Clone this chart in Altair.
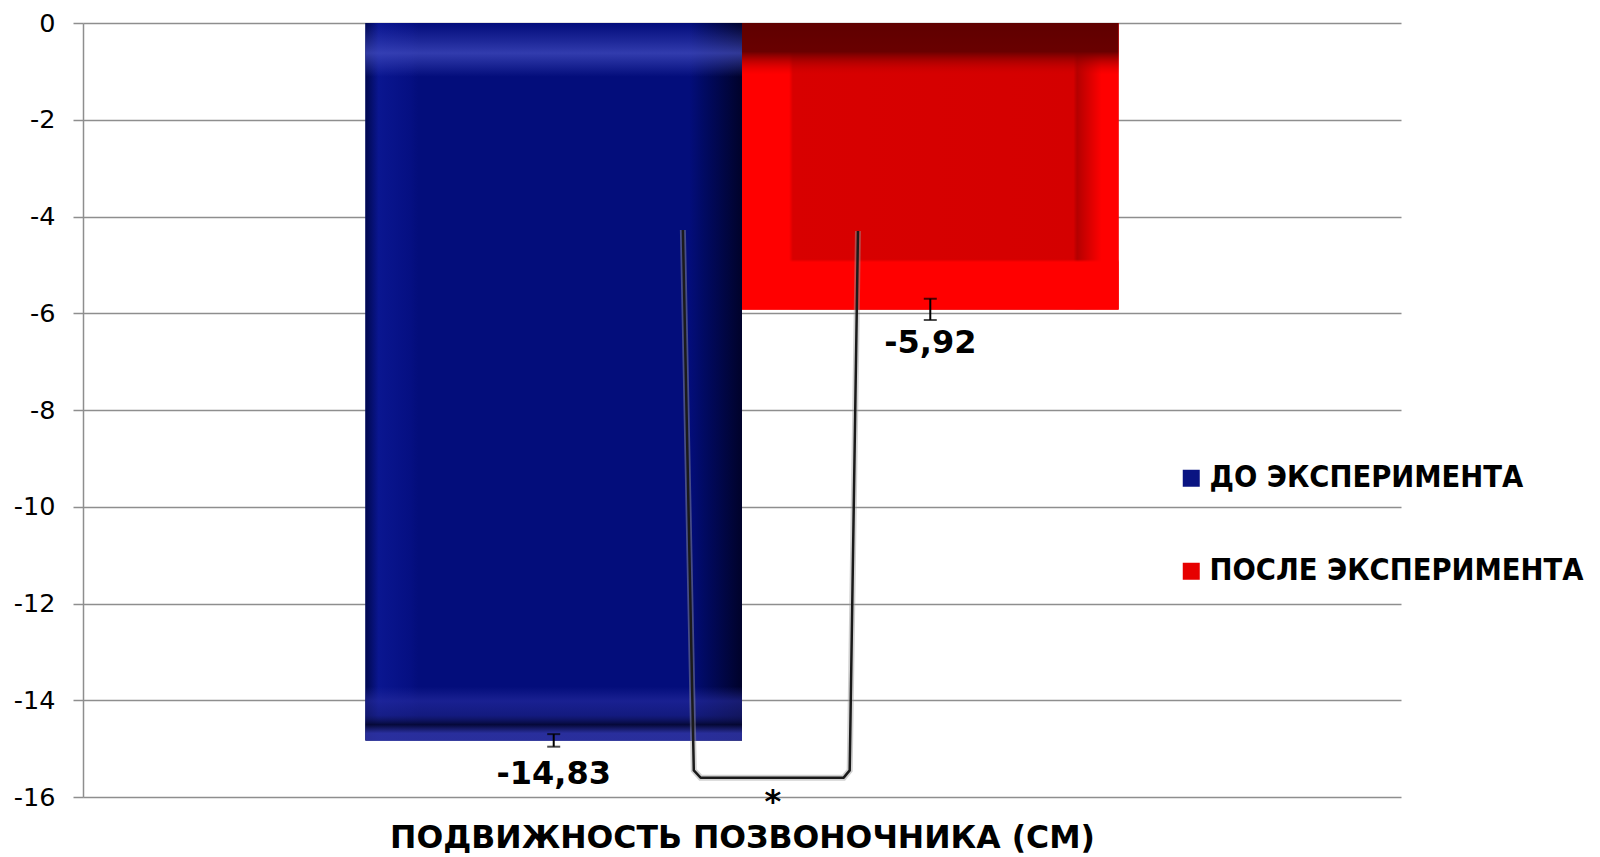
import altair as alt
import pandas as pd

# ---- data ----
groups = ["ДО ЭКСПЕРИМЕНТА", "ПОСЛЕ ЭКСПЕРИМЕНТА"]
values = [-14.83, -5.92]
errors = [0.13, 0.22]
legend_colors = ["#0a1482", "#e60000"]
category_title = "ПОДВИЖНОСТЬ ПОЗВОНОЧНИКА (СМ)"
y_ticks = [0, -2, -4, -6, -8, -10, -12, -14, -16]

# significance bracket (in data units of the chart's scales)
bracket_x = [0.843, 0.872, 0.89, 1.27, 1.286, 1.308]
bracket_y = [-4.28, -15.45, -15.6, -15.6, -15.45, -4.3]
star_x = [1.082]
star_y = [-16.0]
star_text = ["*"]

df = pd.DataFrame({"group": groups, "value": values, "err": errors,
                   "pos": list(range(len(groups)))})
br = pd.DataFrame({"bx": bracket_x, "by": bracket_y, "ord": list(range(len(bracket_x)))})
st = pd.DataFrame({"sx": star_x, "sy": star_y, "txt": star_text})

MINUS = "\u2212"

xs = alt.Scale(domain=[-0.75, 2.75], nice=False, zero=False)
ys = alt.Scale(domain=[-16, 0], nice=False, zero=False)

xaxis = alt.Axis(title=category_title, labels=False, ticks=False, domain=False, grid=False,
                 titleFont="DejaVu Sans", titleFontSize=31.5, titleFontWeight="bold",
                 titleColor="black", titlePadding=25)
yaxis = alt.Axis(values=y_ticks, grid=True, gridColor="#8e8e8e", gridWidth=1.5,
                 domainColor="#8e8e8e", domainWidth=1.5, tickColor="#8e8e8e", tickWidth=1.5,
                 tickSize=10, labelFont="DejaVu Sans", labelFontSize=25.5, labelColor="black",
                 labelPadding=18, title=None, labelFlush=False,
                 labelExpr=f"replace(datum.label, '{MINUS}', '-')")

base = alt.Chart(df).transform_calculate(
    x0="datum.pos",
    x1="datum.pos + 1",
    xc="datum.pos + 0.5",
    lo="datum.value - datum.err",
    hi="datum.value + datum.err",
    label=f"replace(replace(format(datum.value, '.2f'), '.', ','), '{MINUS}', '-')",
)

def X(f):
    return alt.X(f, scale=xs, axis=xaxis)

def Y(f):
    return alt.Y(f, scale=ys, axis=yaxis)

def grad(stops, vertical=False):
    return alt.LinearGradient(
        gradient="linear",
        stops=[alt.GradientStop(color=c, offset=o) for o, c in stops],
        x1=0, y1=0, x2=0 if vertical else 1, y2=1 if vertical else 0,
    )

bars = base.mark_rect().encode(
    x=X("x0:Q"), x2="x1:Q", y=Y("value:Q"), y2=alt.datum(0),
    color=alt.Color("group:N", scale=alt.Scale(domain=groups, range=legend_colors),
                    legend=alt.Legend(orient="none", legendX=1093, legendY=440, title=None,
                                      direction="vertical", labelFont="DejaVu Sans Condensed",
                                      labelFontSize=30.5, labelFontWeight="bold",
                                      labelColor="black", labelLimit=800,
                                      symbolType="square", symbolSize=289,
                                      symbolStrokeWidth=0, symbolOpacity=1,
                                      labelOffset=3, rowPadding=62, padding=0)),
)

blue_h = grad([(0.0, "#00084f"), (0.035, "#0a1690"), (0.12, "#050f82"), (0.14, "#030d7b"),
               (0.86, "#030d7b"), (0.9, "#010a62"), (1.0, "#00022a")])
blue_v = grad([(0.0, "rgba(60,70,190,0)"), (0.042, "rgba(70,80,195,0.7)"),
               (0.075, "rgba(70,80,195,0)"), (0.925, "rgba(40,45,160,0)"),
               (0.945, "rgba(40,45,160,0.6)"), (0.965, "rgba(30,35,130,0.6)"),
               (0.978, "rgba(5,8,50,0.9)"), (0.99, "rgba(45,50,160,0.9)"),
               (1.0, "rgba(45,50,160,0.9)")], vertical=True)
red_h = grad([(0.0, "#ff0000"), (0.125, "#ff0000"), (0.135, "#d80000"), (0.88, "#d40000"),
              (0.89, "#b40000"), (0.955, "#ff0000"), (1.0, "#ff0000")])
red_v = grad([(0.0, "rgba(95,0,0,1)"), (0.1, "rgba(105,0,0,1)"),
              (0.18, "rgba(200,0,0,0)"), (0.825, "rgba(255,0,0,0)"),
              (0.835, "rgba(255,0,0,1)"), (1.0, "rgba(255,0,0,1)")], vertical=True)

def overlay(idx, g):
    return base.transform_filter(alt.datum.pos == idx).mark_rect(fill=g, strokeWidth=0).encode(
        x=X("x0:Q"), x2="x1:Q", y=Y("value:Q"), y2=alt.datum(0))

err_rule = base.mark_rule(color="black", strokeWidth=2).encode(
    x=X("xc:Q"), y=Y("lo:Q"), y2="hi:Q")
cap_lo = base.mark_tick(color="black", orient="horizontal", size=13, thickness=2).encode(
    x=X("xc:Q"), y=Y("lo:Q"))
cap_hi = base.mark_tick(color="black", orient="horizontal", size=13, thickness=2).encode(
    x=X("xc:Q"), y=Y("hi:Q"))

labels = base.mark_text(font="DejaVu Sans", fontSize=32, fontWeight="bold", baseline="top",
                        dy=19, color="black").encode(x=X("xc:Q"), y=Y("value:Q"), text="label:N")

bracket_shadow = alt.Chart(br).mark_line(color="#9a9a9a", strokeWidth=6, opacity=0.45).encode(
    x=X("bx:Q"), y=Y("by:Q"), order="ord:O")
bracket = alt.Chart(br).mark_line(color="#1a1a1a", strokeWidth=2.5, strokeJoin="round").encode(
    x=X("bx:Q"), y=Y("by:Q"), order="ord:O")

star = alt.Chart(st).mark_text(font="DejaVu Sans", fontSize=32, fontWeight="bold",
                               baseline="middle", dy=5, color="black").encode(
    x=X("sx:Q"), y=Y("sy:Q"), text="txt:N")

chart = alt.layer(
    bars, overlay(0, blue_h), overlay(0, blue_v), overlay(1, red_h), overlay(1, red_v),
    bracket_shadow, bracket, err_rule, cap_lo, cap_hi, labels, star,
).properties(
    width=1318, height=774,
    autosize=alt.AutoSizeParams(type="none"),
    padding={"left": 75, "top": 15, "right": 190, "bottom": 70},
    background="white",
).configure_view(stroke=None)

chart.save("out.html", embed_options={"renderer": "svg", "actions": False})
